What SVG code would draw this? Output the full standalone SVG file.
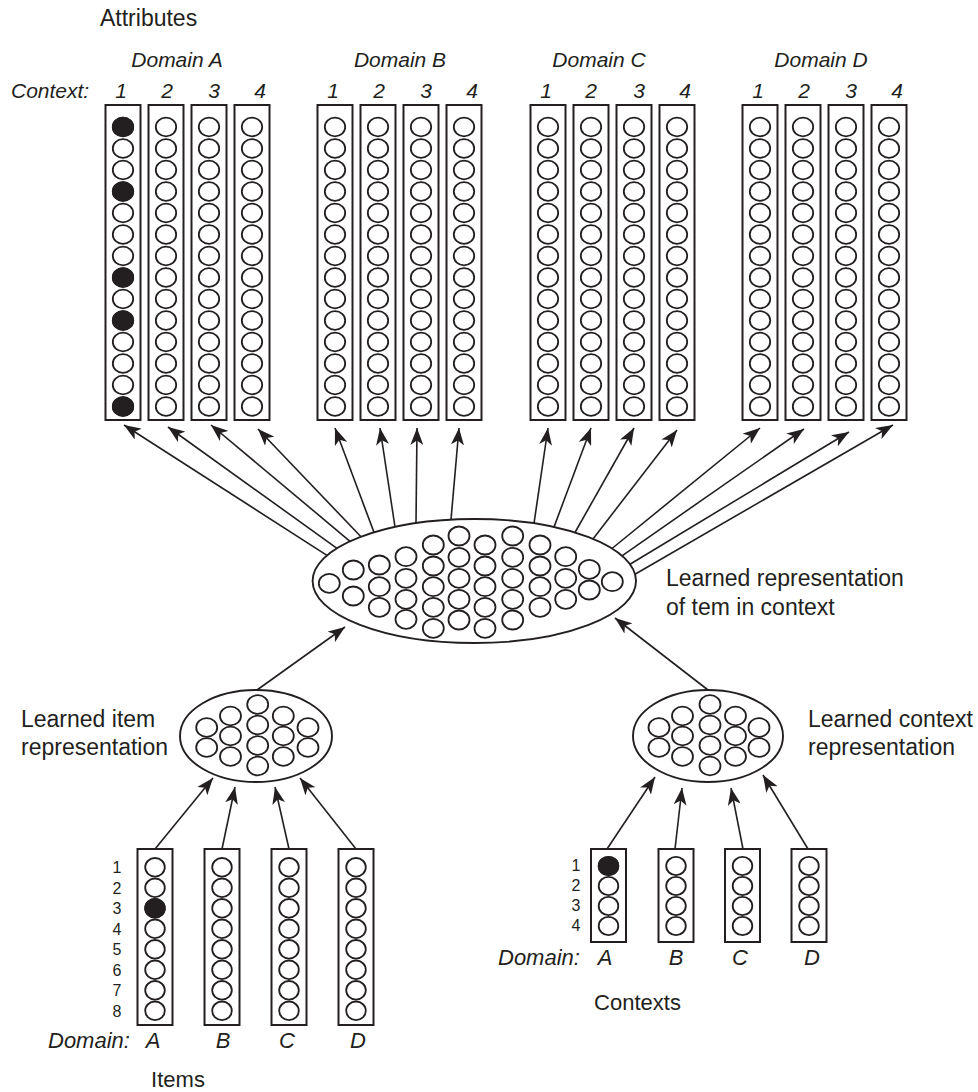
<svg xmlns="http://www.w3.org/2000/svg" width="978" height="1092" viewBox="0 0 978 1092">
<style>
.box{fill:#fff;stroke:#231f20;stroke-width:2}
.u{fill:#fff;stroke:#231f20;stroke-width:1.8}
.on{fill:#231f20;stroke:#231f20;stroke-width:1.8}
.ell{fill:#fff;stroke:#231f20;stroke-width:1.9}
.ln{fill:none;stroke:#231f20;stroke-width:1.6;marker-end:url(#ah)}
text{font-family:"Liberation Sans",Arial,sans-serif;fill:#231f20}
.lab{font-size:23px}
.it{font-size:21px;font-style:italic}
.itb{font-size:22px;font-style:italic}
.dg{font-size:16px;text-anchor:middle}
.mid{text-anchor:middle}
</style>
<defs>
<marker id="ah" viewBox="0 0 17 13" refX="17" refY="6.5" markerWidth="17" markerHeight="13" markerUnits="userSpaceOnUse" orient="auto">
<path d="M0,0 L17,6.5 L0,13 L4.5,6.5 z" fill="#231f20"/>
</marker>
<g id="attrCol">
<rect class="box" x="-17.5" y="0" width="35" height="315"/>
<ellipse class="u" cx="0" cy="22" rx="10.2" ry="9.3"/>
<ellipse class="u" cx="0" cy="43.5" rx="10.2" ry="9.3"/>
<ellipse class="u" cx="0" cy="65" rx="10.2" ry="9.3"/>
<ellipse class="u" cx="0" cy="86.5" rx="10.2" ry="9.3"/>
<ellipse class="u" cx="0" cy="108" rx="10.2" ry="9.3"/>
<ellipse class="u" cx="0" cy="129.5" rx="10.2" ry="9.3"/>
<ellipse class="u" cx="0" cy="151" rx="10.2" ry="9.3"/>
<ellipse class="u" cx="0" cy="172.5" rx="10.2" ry="9.3"/>
<ellipse class="u" cx="0" cy="194" rx="10.2" ry="9.3"/>
<ellipse class="u" cx="0" cy="215.5" rx="10.2" ry="9.3"/>
<ellipse class="u" cx="0" cy="237" rx="10.2" ry="9.3"/>
<ellipse class="u" cx="0" cy="258.5" rx="10.2" ry="9.3"/>
<ellipse class="u" cx="0" cy="280" rx="10.2" ry="9.3"/>
<ellipse class="u" cx="0" cy="301.5" rx="10.2" ry="9.3"/>
</g>
<g id="itemCol">
<rect class="box" x="-17.5" y="0" width="35" height="176"/>
<ellipse class="u" cx="0" cy="18.3" rx="9.8" ry="9.3"/>
<ellipse class="u" cx="0" cy="38.8" rx="9.8" ry="9.3"/>
<ellipse class="u" cx="0" cy="59.3" rx="9.8" ry="9.3"/>
<ellipse class="u" cx="0" cy="79.8" rx="9.8" ry="9.3"/>
<ellipse class="u" cx="0" cy="100.3" rx="9.8" ry="9.3"/>
<ellipse class="u" cx="0" cy="120.8" rx="9.8" ry="9.3"/>
<ellipse class="u" cx="0" cy="141.3" rx="9.8" ry="9.3"/>
<ellipse class="u" cx="0" cy="161.8" rx="9.8" ry="9.3"/>
</g>
<g id="ctxCol">
<rect class="box" x="-17.5" y="0" width="35" height="93"/>
<ellipse class="u" cx="0" cy="17" rx="9.8" ry="9.2"/>
<ellipse class="u" cx="0" cy="37" rx="9.8" ry="9.2"/>
<ellipse class="u" cx="0" cy="57" rx="9.8" ry="9.2"/>
<ellipse class="u" cx="0" cy="77" rx="9.8" ry="9.2"/>
</g>
</defs>
<rect x="0" y="0" width="978" height="1092" fill="#fff"/>

<g id="attributes-labels">
<text class="lab" x="100" y="26">Attributes</text>
<text class="it" x="11" y="98">Context:</text>
<text class="it mid" x="177" y="67">Domain A</text>
<text class="it mid" x="400" y="67">Domain B</text>
<text class="it mid" x="599" y="67">Domain C</text>
<text class="it mid" x="821" y="67">Domain D</text>
<text class="it mid" x="121" y="98">1</text>
<text class="it mid" x="167" y="98">2</text>
<text class="it mid" x="214" y="98">3</text>
<text class="it mid" x="260" y="98">4</text>
<text class="it mid" x="333" y="98">1</text>
<text class="it mid" x="379" y="98">2</text>
<text class="it mid" x="426" y="98">3</text>
<text class="it mid" x="472" y="98">4</text>
<text class="it mid" x="546" y="98">1</text>
<text class="it mid" x="591" y="98">2</text>
<text class="it mid" x="639" y="98">3</text>
<text class="it mid" x="685" y="98">4</text>
<text class="it mid" x="758" y="98">1</text>
<text class="it mid" x="804" y="98">2</text>
<text class="it mid" x="851" y="98">3</text>
<text class="it mid" x="897" y="98">4</text>
</g>

<g id="attr-A1"><use href="#attrCol" x="123" y="105"/>
<ellipse class="on" cx="123" cy="127" rx="10.2" ry="9.3"/>
<ellipse class="on" cx="123" cy="191.5" rx="10.2" ry="9.3"/>
<ellipse class="on" cx="123" cy="277.5" rx="10.2" ry="9.3"/>
<ellipse class="on" cx="123" cy="320.5" rx="10.2" ry="9.3"/>
<ellipse class="on" cx="123" cy="406.5" rx="10.2" ry="9.3"/>
</g>
<g id="attr-A2"><use href="#attrCol" x="166" y="105"/></g>
<g id="attr-A3"><use href="#attrCol" x="209" y="105"/></g>
<g id="attr-A4"><use href="#attrCol" x="252" y="105"/></g>
<g id="attr-B1"><use href="#attrCol" x="335" y="105"/></g>
<g id="attr-B2"><use href="#attrCol" x="378" y="105"/></g>
<g id="attr-B3"><use href="#attrCol" x="421" y="105"/></g>
<g id="attr-B4"><use href="#attrCol" x="464" y="105"/></g>
<g id="attr-C1"><use href="#attrCol" x="548" y="105"/></g>
<g id="attr-C2"><use href="#attrCol" x="591" y="105"/></g>
<g id="attr-C3"><use href="#attrCol" x="634" y="105"/></g>
<g id="attr-C4"><use href="#attrCol" x="677" y="105"/></g>
<g id="attr-D1"><use href="#attrCol" x="760" y="105"/></g>
<g id="attr-D2"><use href="#attrCol" x="803" y="105"/></g>
<g id="attr-D3"><use href="#attrCol" x="846" y="105"/></g>
<g id="attr-D4"><use href="#attrCol" x="889" y="105"/></g>

<g id="connectors">
<line class="ln" x1="327" y1="555.4" x2="124" y2="425"/>
<line class="ln" x1="337" y1="548.3" x2="168" y2="427"/>
<line class="ln" x1="350" y1="541.3" x2="211" y2="425"/>
<line class="ln" x1="361" y1="536.8" x2="258" y2="429"/>
<line class="ln" x1="374" y1="532.4" x2="335" y2="428"/>
<line class="ln" x1="395" y1="527" x2="380" y2="428"/>
<line class="ln" x1="416" y1="523.2" x2="417" y2="428"/>
<line class="ln" x1="451" y1="519.6" x2="459" y2="428"/>
<line class="ln" x1="534" y1="523.4" x2="548" y2="428"/>
<line class="ln" x1="554" y1="527.1" x2="591" y2="428"/>
<line class="ln" x1="575" y1="532.5" x2="634" y2="428"/>
<line class="ln" x1="593" y1="538.9" x2="677" y2="430"/>
<line class="ln" x1="612" y1="548.5" x2="760" y2="428"/>
<line class="ln" x1="622" y1="555.8" x2="804" y2="429"/>
<line class="ln" x1="630" y1="564.3" x2="849" y2="432"/>
<line class="ln" x1="635" y1="574.2" x2="893" y2="425"/>
<line class="ln" x1="257" y1="690" x2="345" y2="627"/>
<line class="ln" x1="708" y1="690" x2="615" y2="618"/>
<line class="ln" x1="155" y1="849" x2="213" y2="778"/>
<line class="ln" x1="222" y1="849" x2="235" y2="787"/>
<line class="ln" x1="289" y1="849" x2="275" y2="787"/>
<line class="ln" x1="356" y1="849" x2="300" y2="778"/>
<line class="ln" x1="607" y1="849" x2="655" y2="777"/>
<line class="ln" x1="675" y1="849" x2="682" y2="788"/>
<line class="ln" x1="743" y1="849" x2="731" y2="788"/>
<line class="ln" x1="808" y1="849" x2="763" y2="775"/>
</g>

<g id="hidden-item-context">
<ellipse class="ell" cx="474.3" cy="581" rx="161.7" ry="62"/>
<ellipse class="u" cx="329.3" cy="583.3" rx="10.5" ry="9.5"/>
<ellipse class="u" cx="353.3" cy="570" rx="10.5" ry="9.5"/>
<ellipse class="u" cx="353.3" cy="596" rx="10.5" ry="9.5"/>
<ellipse class="u" cx="379.3" cy="565" rx="10.5" ry="9.5"/>
<ellipse class="u" cx="379.3" cy="586.7" rx="10.5" ry="9.5"/>
<ellipse class="u" cx="379.3" cy="607.3" rx="10.5" ry="9.5"/>
<ellipse class="u" cx="406" cy="556.7" rx="10.5" ry="9.5"/>
<ellipse class="u" cx="406" cy="578.3" rx="10.5" ry="9.5"/>
<ellipse class="u" cx="406" cy="599.3" rx="10.5" ry="9.5"/>
<ellipse class="u" cx="406" cy="619.3" rx="10.5" ry="9.5"/>
<ellipse class="u" cx="433.3" cy="545" rx="10.5" ry="9.5"/>
<ellipse class="u" cx="433.3" cy="566" rx="10.5" ry="9.5"/>
<ellipse class="u" cx="433.3" cy="586.7" rx="10.5" ry="9.5"/>
<ellipse class="u" cx="433.3" cy="607.3" rx="10.5" ry="9.5"/>
<ellipse class="u" cx="433.3" cy="628.3" rx="10.5" ry="9.5"/>
<ellipse class="u" cx="459" cy="536" rx="10.5" ry="9.5"/>
<ellipse class="u" cx="459" cy="557.3" rx="10.5" ry="9.5"/>
<ellipse class="u" cx="459" cy="578.3" rx="10.5" ry="9.5"/>
<ellipse class="u" cx="459" cy="599.3" rx="10.5" ry="9.5"/>
<ellipse class="u" cx="459" cy="620" rx="10.5" ry="9.5"/>
<ellipse class="u" cx="485" cy="545" rx="10.5" ry="9.5"/>
<ellipse class="u" cx="485" cy="566" rx="10.5" ry="9.5"/>
<ellipse class="u" cx="485" cy="586.7" rx="10.5" ry="9.5"/>
<ellipse class="u" cx="485" cy="607.3" rx="10.5" ry="9.5"/>
<ellipse class="u" cx="485" cy="628.3" rx="10.5" ry="9.5"/>
<ellipse class="u" cx="512.7" cy="536" rx="10.5" ry="9.5"/>
<ellipse class="u" cx="512.7" cy="557.3" rx="10.5" ry="9.5"/>
<ellipse class="u" cx="512.7" cy="578.3" rx="10.5" ry="9.5"/>
<ellipse class="u" cx="512.7" cy="599.3" rx="10.5" ry="9.5"/>
<ellipse class="u" cx="512.7" cy="620" rx="10.5" ry="9.5"/>
<ellipse class="u" cx="540" cy="545" rx="10.5" ry="9.5"/>
<ellipse class="u" cx="540" cy="566" rx="10.5" ry="9.5"/>
<ellipse class="u" cx="540" cy="586.7" rx="10.5" ry="9.5"/>
<ellipse class="u" cx="540" cy="607.3" rx="10.5" ry="9.5"/>
<ellipse class="u" cx="565.7" cy="556.7" rx="10.5" ry="9.5"/>
<ellipse class="u" cx="565.7" cy="578.3" rx="10.5" ry="9.5"/>
<ellipse class="u" cx="565.7" cy="599.3" rx="10.5" ry="9.5"/>
<ellipse class="u" cx="589.3" cy="569.3" rx="10.5" ry="9.5"/>
<ellipse class="u" cx="589.3" cy="590" rx="10.5" ry="9.5"/>
<ellipse class="u" cx="612.3" cy="581.7" rx="10.5" ry="9.5"/>
<text class="lab" x="666" y="586">Learned representation</text>
<text class="lab" x="666" y="615">of tem in context</text>
</g>

<g id="hidden-item">
<ellipse class="ell" cx="256" cy="736" rx="76" ry="46"/>
<ellipse class="u" cx="206.7" cy="727.5" rx="10.5" ry="9.3"/>
<ellipse class="u" cx="206.7" cy="747.5" rx="10.5" ry="9.3"/>
<ellipse class="u" cx="230.5" cy="716" rx="10.5" ry="9.3"/>
<ellipse class="u" cx="230.5" cy="736" rx="10.5" ry="9.3"/>
<ellipse class="u" cx="230.5" cy="756.5" rx="10.5" ry="9.3"/>
<ellipse class="u" cx="257.7" cy="704.5" rx="10.5" ry="9.3"/>
<ellipse class="u" cx="257.7" cy="725" rx="10.5" ry="9.3"/>
<ellipse class="u" cx="257.7" cy="745.5" rx="10.5" ry="9.3"/>
<ellipse class="u" cx="257.7" cy="766" rx="10.5" ry="9.3"/>
<ellipse class="u" cx="283.3" cy="716" rx="10.5" ry="9.3"/>
<ellipse class="u" cx="283.3" cy="736" rx="10.5" ry="9.3"/>
<ellipse class="u" cx="283.3" cy="756.5" rx="10.5" ry="9.3"/>
<ellipse class="u" cx="308" cy="727.5" rx="10.5" ry="9.3"/>
<ellipse class="u" cx="308" cy="747.5" rx="10.5" ry="9.3"/>
<text class="lab" x="21" y="727">Learned item</text>
<text class="lab" x="21" y="755">representation</text>
</g>

<g id="hidden-context">
<ellipse class="ell" cx="708" cy="736" rx="75" ry="46"/>
<ellipse class="u" cx="659" cy="727.5" rx="10.5" ry="9.3"/>
<ellipse class="u" cx="659" cy="747.5" rx="10.5" ry="9.3"/>
<ellipse class="u" cx="682.5" cy="716" rx="10.5" ry="9.3"/>
<ellipse class="u" cx="682.5" cy="736" rx="10.5" ry="9.3"/>
<ellipse class="u" cx="682.5" cy="756.5" rx="10.5" ry="9.3"/>
<ellipse class="u" cx="710" cy="704.5" rx="10.5" ry="9.3"/>
<ellipse class="u" cx="710" cy="725" rx="10.5" ry="9.3"/>
<ellipse class="u" cx="710" cy="745.5" rx="10.5" ry="9.3"/>
<ellipse class="u" cx="710" cy="766" rx="10.5" ry="9.3"/>
<ellipse class="u" cx="735.5" cy="716" rx="10.5" ry="9.3"/>
<ellipse class="u" cx="735.5" cy="736" rx="10.5" ry="9.3"/>
<ellipse class="u" cx="735.5" cy="756.5" rx="10.5" ry="9.3"/>
<ellipse class="u" cx="759" cy="727.5" rx="10.5" ry="9.3"/>
<ellipse class="u" cx="759" cy="747.5" rx="10.5" ry="9.3"/>
<text class="lab" x="808" y="727">Learned context</text>
<text class="lab" x="808" y="755">representation</text>
</g>

<g id="item-A"><use href="#itemCol" x="155" y="849"/>
<ellipse class="on" cx="155" cy="908.3" rx="9.8" ry="9.3"/></g>
<g id="item-B"><use href="#itemCol" x="222" y="849"/></g>
<g id="item-C"><use href="#itemCol" x="289" y="849"/></g>
<g id="item-D"><use href="#itemCol" x="356" y="849"/></g>
<g id="item-labels">
<text class="dg" x="117" y="873">1</text>
<text class="dg" x="117" y="893.5">2</text>
<text class="dg" x="117" y="914">3</text>
<text class="dg" x="117" y="934.5">4</text>
<text class="dg" x="117" y="955">5</text>
<text class="dg" x="117" y="975.5">6</text>
<text class="dg" x="117" y="996">7</text>
<text class="dg" x="117" y="1016.5">8</text>
<text class="itb" x="48" y="1048">Domain:</text>
<text class="itb mid" x="153" y="1048">A</text>
<text class="itb mid" x="223" y="1048">B</text>
<text class="itb mid" x="287" y="1048">C</text>
<text class="itb mid" x="358" y="1048">D</text>
<text class="mid" x="178" y="1087" font-size="22">Items</text>
</g>

<g id="ctx-A"><use href="#ctxCol" x="608.5" y="849"/>
<ellipse class="on" cx="608.5" cy="866" rx="9.8" ry="9.2"/></g>
<g id="ctx-B"><use href="#ctxCol" x="676" y="849"/></g>
<g id="ctx-C"><use href="#ctxCol" x="742.5" y="849"/></g>
<g id="ctx-D"><use href="#ctxCol" x="809" y="849"/></g>
<g id="ctx-labels">
<text class="dg" x="576" y="871">1</text>
<text class="dg" x="576" y="891">2</text>
<text class="dg" x="576" y="911">3</text>
<text class="dg" x="576" y="931">4</text>
<text class="itb" x="498" y="965">Domain:</text>
<text class="itb mid" x="605" y="965">A</text>
<text class="itb mid" x="676" y="965">B</text>
<text class="itb mid" x="740" y="965">C</text>
<text class="itb mid" x="812" y="965">D</text>
<text class="mid" x="637.5" y="1010" font-size="22">Contexts</text>
</g>
</svg>
